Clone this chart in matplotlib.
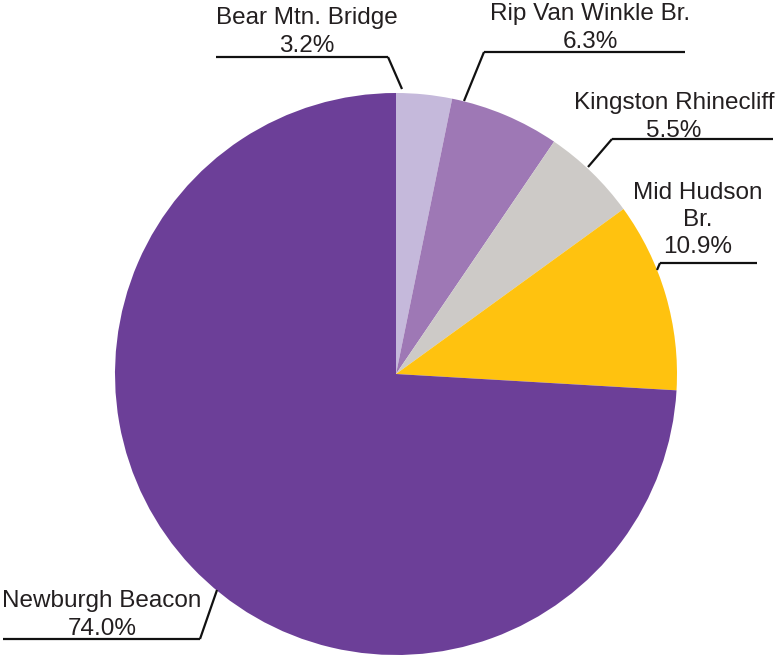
import matplotlib.pyplot as plt

# share of traffic by crossing
crossings = ["Bear Mtn. Bridge", "Rip Van Winkle Br.", "Kingston Rhinecliff",
             "Mid Hudson\nBr.", "Newburgh Beacon"]
shares = [3.2, 6.3, 5.5, 10.9, 74.0]
colors = ["#C5B9DB", "#9E78B5", "#CDCAC7", "#FFC20F", "#6C3F98"]

W, H = 776, 656
plt.rcParams['font.family'] = ['Liberation Sans', 'DejaVu Sans']

fig = plt.figure(figsize=(W / 100, H / 100), dpi=100)
ax = fig.add_axes([0, 0, 1, 1])


def py(y):
    # pixel row (from top) -> data y
    return H - y


ax.pie(shares, colors=colors, startangle=90, counterclock=False,
       center=(396, py(374)), radius=281, frame=True,
       wedgeprops=dict(linewidth=0))
ax.set_xlim(0, W)
ax.set_ylim(0, H)
ax.set_aspect('equal')
ax.axis('off')

# label text centre, underline span and the point on the wedge edge
callouts = [
    (307, 32, (216, 388), 57, (402, 89), "left"),
    (590, 28, (484, 685), 52, (464, 101), "right"),
    (674, 117, (612, 773), 139, (588, 167), "right"),
    (698, 220, (660, 757), 263, (657, 270), "right"),
    (102, 615, (3, 200), 639, (217, 590), "left"),
]

txt_color = "#231F20"
for name, val, (cx, cy, (x0, x1), ly, (tx, ty), side) in zip(crossings, shares, callouts):
    ax.text(cx, py(cy), f"{name}\n{val:.1f}%", ha='center', va='center',
            fontsize=17.5, color=txt_color, linespacing=1.32)
    knee = x1 if side == "left" else x0
    ax.plot([x0, x1], [py(ly), py(ly)], color="#111111", lw=1.6,
            solid_capstyle='butt')
    ax.plot([knee, tx], [py(ly), py(ty)], color="#111111", lw=1.6,
            solid_capstyle='butt')

fig.savefig("out.png", dpi=100)
